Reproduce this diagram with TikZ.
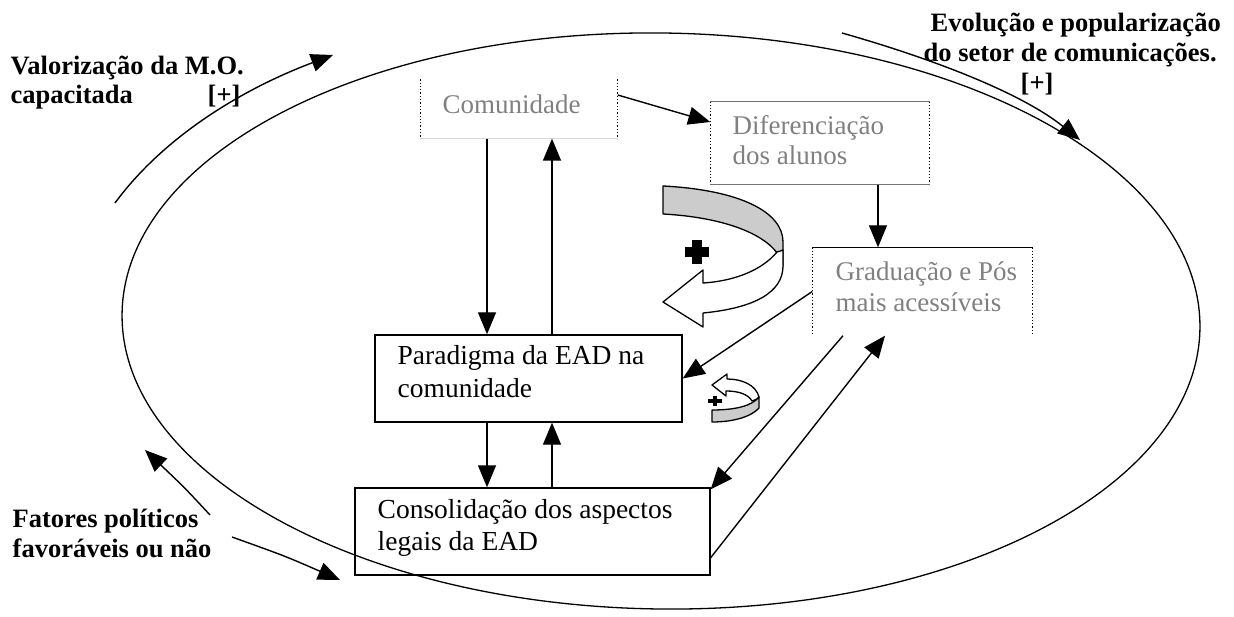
\documentclass[tikz,border=0pt]{standalone}
\usepackage{fontspec}
\setmainfont{Liberation Serif}
\usetikzlibrary{arrows.meta,calc}
\begin{document}
\begin{tikzpicture}[x=1pt,y=-1pt,line width=1.4pt,
  tip/.style={-{Triangle[length=22pt,width=18pt]}},
  lbl/.style={font=\fontsize{26.5}{30}\selectfont\bfseries,inner sep=0pt,anchor=base west},
  btxt/.style={font=\fontsize{27.5}{32}\selectfont,inner sep=0pt,anchor=base west},
  ftxt/.style={font=\fontsize{27}{32}\selectfont,text=black!50,inner sep=0pt,anchor=base west},
  boxshape/.style={rectangle,inner sep=0pt},
  solidbox/.style={boxshape,draw,line width=1.4pt},
  dotside/.style={line width=1.3pt,dotted},
  band/.style={fill=black!20,draw=black,line width=1.3pt,line join=round},
  ribbon/.style={fill=white,draw=black,line width=1.3pt,line join=round},
  plusmark/.style={fill=black}
]
\useasboundingbox (0,0) rectangle (1234,617);

% big ellipse
\draw[line width=1.3pt,rotate around={-0.8:(661,321)}] (661,321) ellipse [x radius=539, y radius=288];

% boxes
\node[boxshape,minimum width=196pt,minimum height=58pt] (com) at (519,109) {};
\node[boxshape,minimum width=218pt,minimum height=82pt] (dif) at (820,143) {};
\node[boxshape,minimum width=219pt,minimum height=87pt] (qua) at (922.5,291.5) {};
\node[solidbox,minimum width=307pt,minimum height=87pt] (par) at (528.5,378.5) {};
\node[solidbox,minimum width=355pt,minimum height=87pt] (con) at (532.5,531.5) {};

% partial borders
\draw[dotside] (com.north west) -- (com.south west);
\draw[dotside] (com.north east) -- (com.south east);
\draw[black!15,line width=0.8pt] (com.south west) -- (com.south east);
\draw[dotside] (dif.north west) -- (dif.south west);
\draw[dotside] (dif.north east) -- (dif.south east);
\draw[black!55,line width=1.2pt] (dif.north west) -- (dif.north east);
\draw[black!55,line width=1.2pt] (dif.south west) -- (dif.south east);
\draw[dotside] (qua.north west) -- (qua.south west);
\draw[dotside] (qua.north east) -- (qua.south east);
\draw[line width=1.4pt] (qua.north west) -- (qua.north east);

% box texts
\node[ftxt] (comt) at (442,114) {Comunidade};
\node[ftxt] (dift1) at (732,135) {Diferenciação};
\node[ftxt] (dift2) at (732,165) {dos alunos};
\node[ftxt] (quat1) at (835,281) {Graduação e Pós};
\node[ftxt] (quat2) at (835,312) {mais acessíveis};
\node[btxt] (part1) at (397,365) {Paradigma da EAD na};
\node[btxt] (part2) at (397,397) {comunidade};
\node[btxt] (cont1) at (377,518) {Consolidação dos aspectos};
\node[btxt] (cont2) at (377,550) {legais da EAD};

% outer labels
\node[lbl] (v1) at (10,75) {Valorização da M.O.};
\node[lbl] (v2) at (10,104) {capacitada};
\node[lbl] (v3) at (207,104) {[+]};
\node[lbl] (e1) at (930,32) {Evolução e popularização};
\node[lbl] (e2) at (923,62) {do setor de comunicações.};
\node[lbl] (e3) at (1020,92) {[+]};
\node[lbl] (f1) at (12,527) {Fatores políticos};
\node[lbl] (f2) at (12,557) {favoráveis ou não};

% connectors between boxes
\draw[tip] ([yshift=14pt]com.east) -- ([yshift=21pt]dif.west);
\draw[tip] (487,0 |- com.south) -- (487,0 |- par.north);
\draw[tip] (552,0 |- par.north) -- (552,0 |- com.south);
\draw[tip] (878,0 |- dif.south) -- (878,0 |- qua.north);
\draw[tip] (qua.west) -- (par.east);
\draw[tip] (487,0 |- par.south) -- (487,0 |- con.north);
\draw[tip] (552,0 |- con.north) -- (552,0 |- par.south);
\draw[tip] (843,0 |- qua.south) -- ([yshift=-2pt]con.north east);
\draw[tip] ([yshift=18pt]con.south east) -- (885,0 |- qua.south);

% outer arrows
\coordinate (a1s) at (115,203);
\coordinate (a1e) at (333,55);
\draw[tip] (a1s) .. controls (165,135) and (245,88) .. (a1e);
\coordinate (a2s) at (842,33);
\coordinate (a2e) at (1080,140);
\draw[tip] (a2s) .. controls (930,58) and (1020,92) .. (a2e);
\coordinate (a3s) at (210,515);
\coordinate (a3e) at (145,450);
\draw[tip] (a3s) .. controls (185,488) .. (a3e);
\coordinate (a4s) at (232,537);
\coordinate (a4e) at (340,580);
\draw[tip] (a4s) .. controls (285,556) .. (a4e);

% big U-turn ribbon arrow
\draw[band] (663,186) .. controls (740,190) and (783,212) .. (783,242)
  -- (783,266) .. controls (778,240) and (735,218) .. (663,214) -- cycle;
\draw[ribbon] (777,252) .. controls (762,270) and (735,281) .. (703,283)
  -- (703,270) -- (663,302) -- (703,327) -- (703,313)
  .. controls (755,308) and (783,292) .. (783,266) -- (783,250)
  .. controls (782,251) and (779,251) .. cycle;
\fill[plusmark] (685,247) rectangle (709,257);
\fill[plusmark] (692,240) rectangle (702,264);

% small U-turn ribbon arrow
\draw[band] (712,410) .. controls (735,410) and (752,406) .. (759,397)
  -- (759,408) .. controls (752,416) and (735,422) .. (712,422) -- cycle;
\draw[ribbon] (759,397) .. controls (756,385) and (742,379) .. (727,379)
  -- (727,374) -- (712,385) -- (726,396) -- (726,391)
  .. controls (738,391) and (748,394) .. (752,401)
  .. controls (755,400) and (758,399) .. cycle;
\fill[plusmark] (708,399) rectangle (722,403);
\fill[plusmark] (713,396) rectangle (717,406);
\end{tikzpicture}
\end{document}
